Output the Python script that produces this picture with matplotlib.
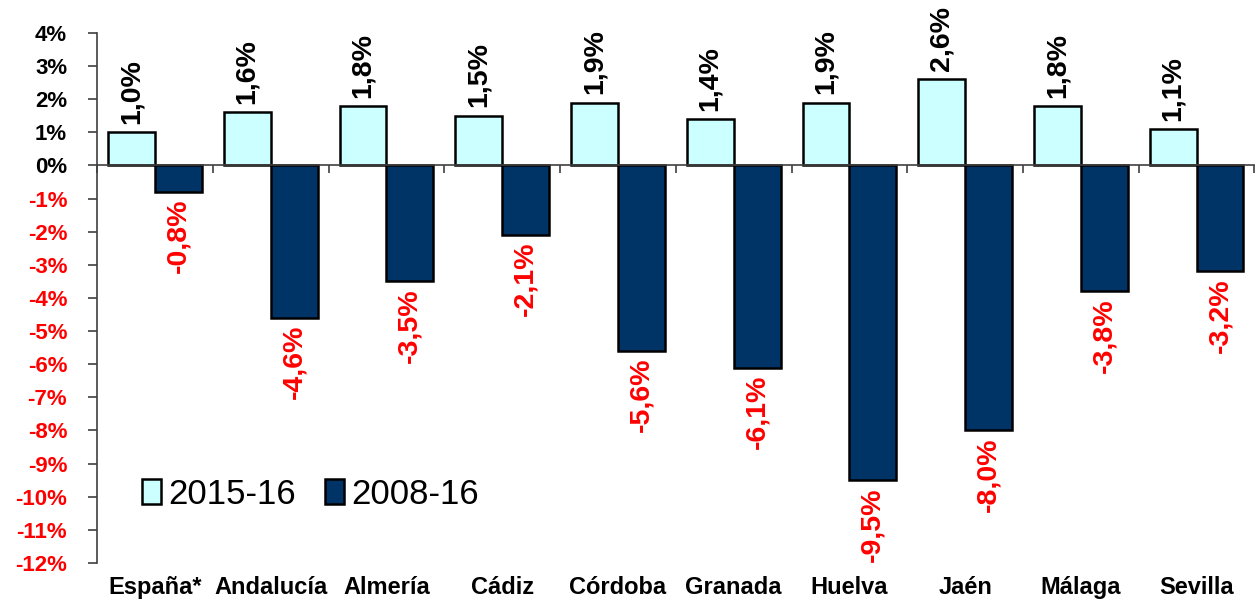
import numpy as np
import matplotlib
matplotlib.use("Agg")
from matplotlib import pyplot as plt
from matplotlib import transforms

plt.rcParams['font.family'] = ['Liberation Sans', 'DejaVu Sans']

# Data
categories = ["España*", "Andalucía", "Almería", "Cádiz", "Córdoba",
              "Granada", "Huelva", "Jaén", "Málaga", "Sevilla"]
var_2015_16 = [1.0, 1.6, 1.8, 1.5, 1.9, 1.4, 1.9, 2.6, 1.8, 1.1]
var_2008_16 = [-0.8, -4.6, -3.5, -2.1, -5.6, -6.1, -9.5, -8.0, -3.8, -3.2]
series_labels = ["2015-16", "2008-16"]
yticks = list(range(-12, 5))

light = "#CCFFFF"
dark = "#003366"
axis_grey = "#404040"


def fmt(v):
    return f"{v:.1f}".replace(".", ",") + "%"


fig = plt.figure(figsize=(12.57, 6), dpi=100)
ax = fig.add_axes([0.0772, 0.0617, 0.9208, 0.8833])

x = np.arange(len(categories))
w = 0.405
ax.bar(x - w / 2, var_2015_16, w, color=light, edgecolor="black",
       linewidth=1.8, label=series_labels[0], zorder=3)
ax.bar(x + w / 2, var_2008_16, w, color=dark, edgecolor="black",
       linewidth=1.8, label=series_labels[1], zorder=3)

# Data labels
for xi, v in zip(x - w / 2, var_2015_16):
    ax.annotate(fmt(v), (xi, v), xytext=(0, 6), textcoords="offset points",
                rotation=90, ha="center", va="bottom", fontsize=20.5,
                fontweight="bold", color="black")
for xi, v in zip(x + w / 2, var_2008_16):
    ax.annotate(fmt(v), (xi, v), xytext=(0, -5), textcoords="offset points",
                rotation=90, ha="center", va="top", fontsize=20.5,
                fontweight="bold", color="red")

# Axes
ax.set_xlim(-0.5, len(categories) - 0.5)
ax.set_ylim(-12, 4)
ax.set_yticks(yticks)
ax.set_yticklabels([f"{t}%" for t in yticks], fontsize=16, fontweight="bold")
for lbl, t in zip(ax.get_yticklabels(), yticks):
    lbl.set_color("red" if t < 0 else "black")
ax.tick_params(axis="y", direction="out", length=6.5, width=1.2, color=axis_grey, pad=15)

ax.spines["top"].set_visible(False)
ax.spines["right"].set_visible(False)
ax.spines["left"].set_color(axis_grey)
ax.spines["left"].set_linewidth(1.2)
ax.spines["bottom"].set_position(("data", 0))
ax.spines["bottom"].set_color(axis_grey)
ax.spines["bottom"].set_linewidth(1.2)
ax.spines["bottom"].set_zorder(4)

ax.set_xticks(np.arange(len(categories) + 1) - 0.5)
ax.set_xticklabels([])
ax.tick_params(axis="x", direction="out", length=6, width=1.2, color=axis_grey)

# Category names below the plot
trans = transforms.blended_transform_factory(ax.transData, ax.transAxes)
for xi, c in zip(x, categories):
    ax.text(xi, -0.047, c, transform=trans, ha="center", va="center",
            fontsize=17, fontweight="bold")

ax.legend(loc="center left", bbox_to_anchor=(0.027, 0.13), frameon=False,
          fontsize=25, handlelength=0.55, handleheight=0.75, handletextpad=0.2,
          columnspacing=0.85, ncol=2, borderaxespad=0)

fig.savefig("out.png", dpi=100)
